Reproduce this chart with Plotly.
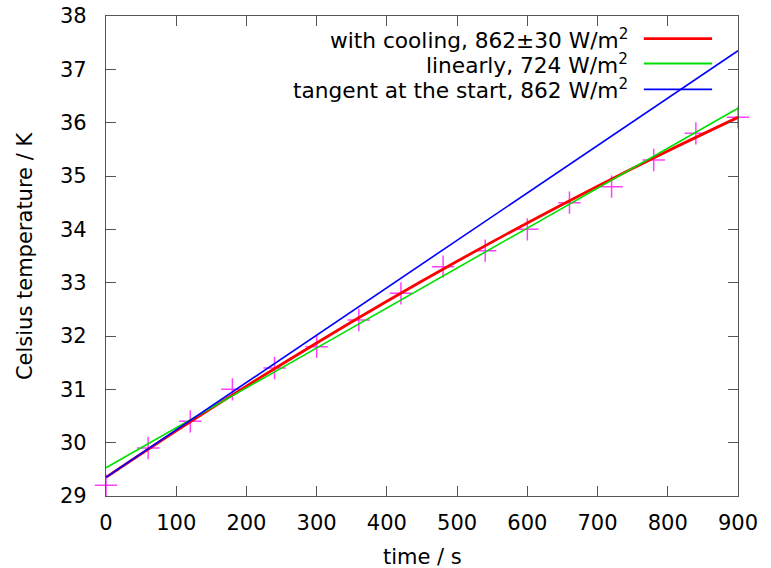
import plotly.graph_objects as go

# measured data (time in s, temperature in deg C)
t_meas = [0, 60, 120, 180, 240, 300, 360, 420, 480, 540, 600, 660, 720, 780, 840, 900]
T_meas = [29.2, 29.9, 30.4, 31.0, 31.4, 31.8, 32.3, 32.8, 33.3, 33.6, 34.0, 34.5, 34.8, 35.3, 35.8, 36.1]

# fit with cooling
t_cool = [0, 100, 200, 300, 400, 500, 600, 700, 800, 900]
T_cool = [29.35, 30.22, 31.06, 31.87, 32.65, 33.40, 34.12, 34.81, 35.47, 36.10]

# linear fit
t_lin = [0, 900]
T_lin = [29.53, 36.27]

# tangent at the start
t_tan = [0, 900]
T_tan = [29.35, 37.35]

labels = ["with cooling, 862±30 W/m<sup>2</sup>",
          "linearly, 724 W/m<sup>2</sup>",
          "tangent at the start, 862 W/m<sup>2</sup>"]
colors = ["#ff0000", "#00e000", "#0000ff"]
x_title = "time / s"
y_title = "Celsius temperature / K"

FONT = "DejaVu Sans"
FS = 21

fig = go.Figure()
fig.add_trace(go.Scatter(x=t_meas, y=T_meas, mode="markers",
                         marker=dict(symbol="cross-thin", size=16,
                                     line=dict(color="rgba(255,0,255,0.75)", width=1.5)),
                         showlegend=False, cliponaxis=False))
fig.add_trace(go.Scatter(x=t_cool, y=T_cool, mode="lines", line=dict(color=colors[0], width=2.8, shape="spline"),
                         showlegend=False))
fig.add_trace(go.Scatter(x=t_lin, y=T_lin, mode="lines", line=dict(color=colors[1], width=1.6),
                         showlegend=False))
fig.add_trace(go.Scatter(x=t_tan, y=T_tan, mode="lines", line=dict(color=colors[2], width=1.6),
                         showlegend=False))

# gnuplot-style key: text right-aligned, sample line to the right
rows = [0.953, 0.901, 0.847]
widths = [2.8, 1.8, 1.8]
for lab, col, yy, w in zip(labels, colors, rows, widths):
    fig.add_annotation(xref="paper", yref="paper", x=0.829, y=yy, text=lab,
                       xanchor="right", yanchor="middle", showarrow=False,
                       font=dict(family=FONT, size=21.7, color="black"))
    fig.add_shape(type="line", xref="paper", yref="paper", x0=0.851, x1=0.959, y0=yy, y1=yy,
                  line=dict(color=col, width=w))

# axis titles
fig.add_annotation(xref="paper", yref="paper", x=0.5, y=-0.127, text=x_title,
                   xanchor="center", yanchor="middle", showarrow=False,
                   font=dict(family=FONT, size=FS, color="black"))
fig.add_annotation(xref="paper", yref="paper", x=-0.128, y=0.5, text=y_title, textangle=-90,
                   xanchor="center", yanchor="middle", showarrow=False,
                   font=dict(family=FONT, size=FS, color="black"))

axis_common = dict(showline=True, linecolor="#555555", linewidth=1.2, mirror="allticks",
                   ticks="inside", ticklen=10, tickcolor="#555555", tickwidth=1,
                   showgrid=False, zeroline=False, automargin=False,
                   tickfont=dict(family=FONT, size=FS, color="black"))

fig.update_layout(
    width=771, height=568,
    margin=dict(l=106, r=33, t=16, b=72),
    plot_bgcolor="white", paper_bgcolor="white",
    font=dict(family=FONT, size=FS, color="black"),
    xaxis=dict(range=[0, 900], dtick=100, tick0=0, ticklabelstandoff=8, **axis_common),
    yaxis=dict(range=[29, 38], dtick=1, tick0=29, ticklabelstandoff=14, **axis_common),
)

fig.write_html("out.html")
